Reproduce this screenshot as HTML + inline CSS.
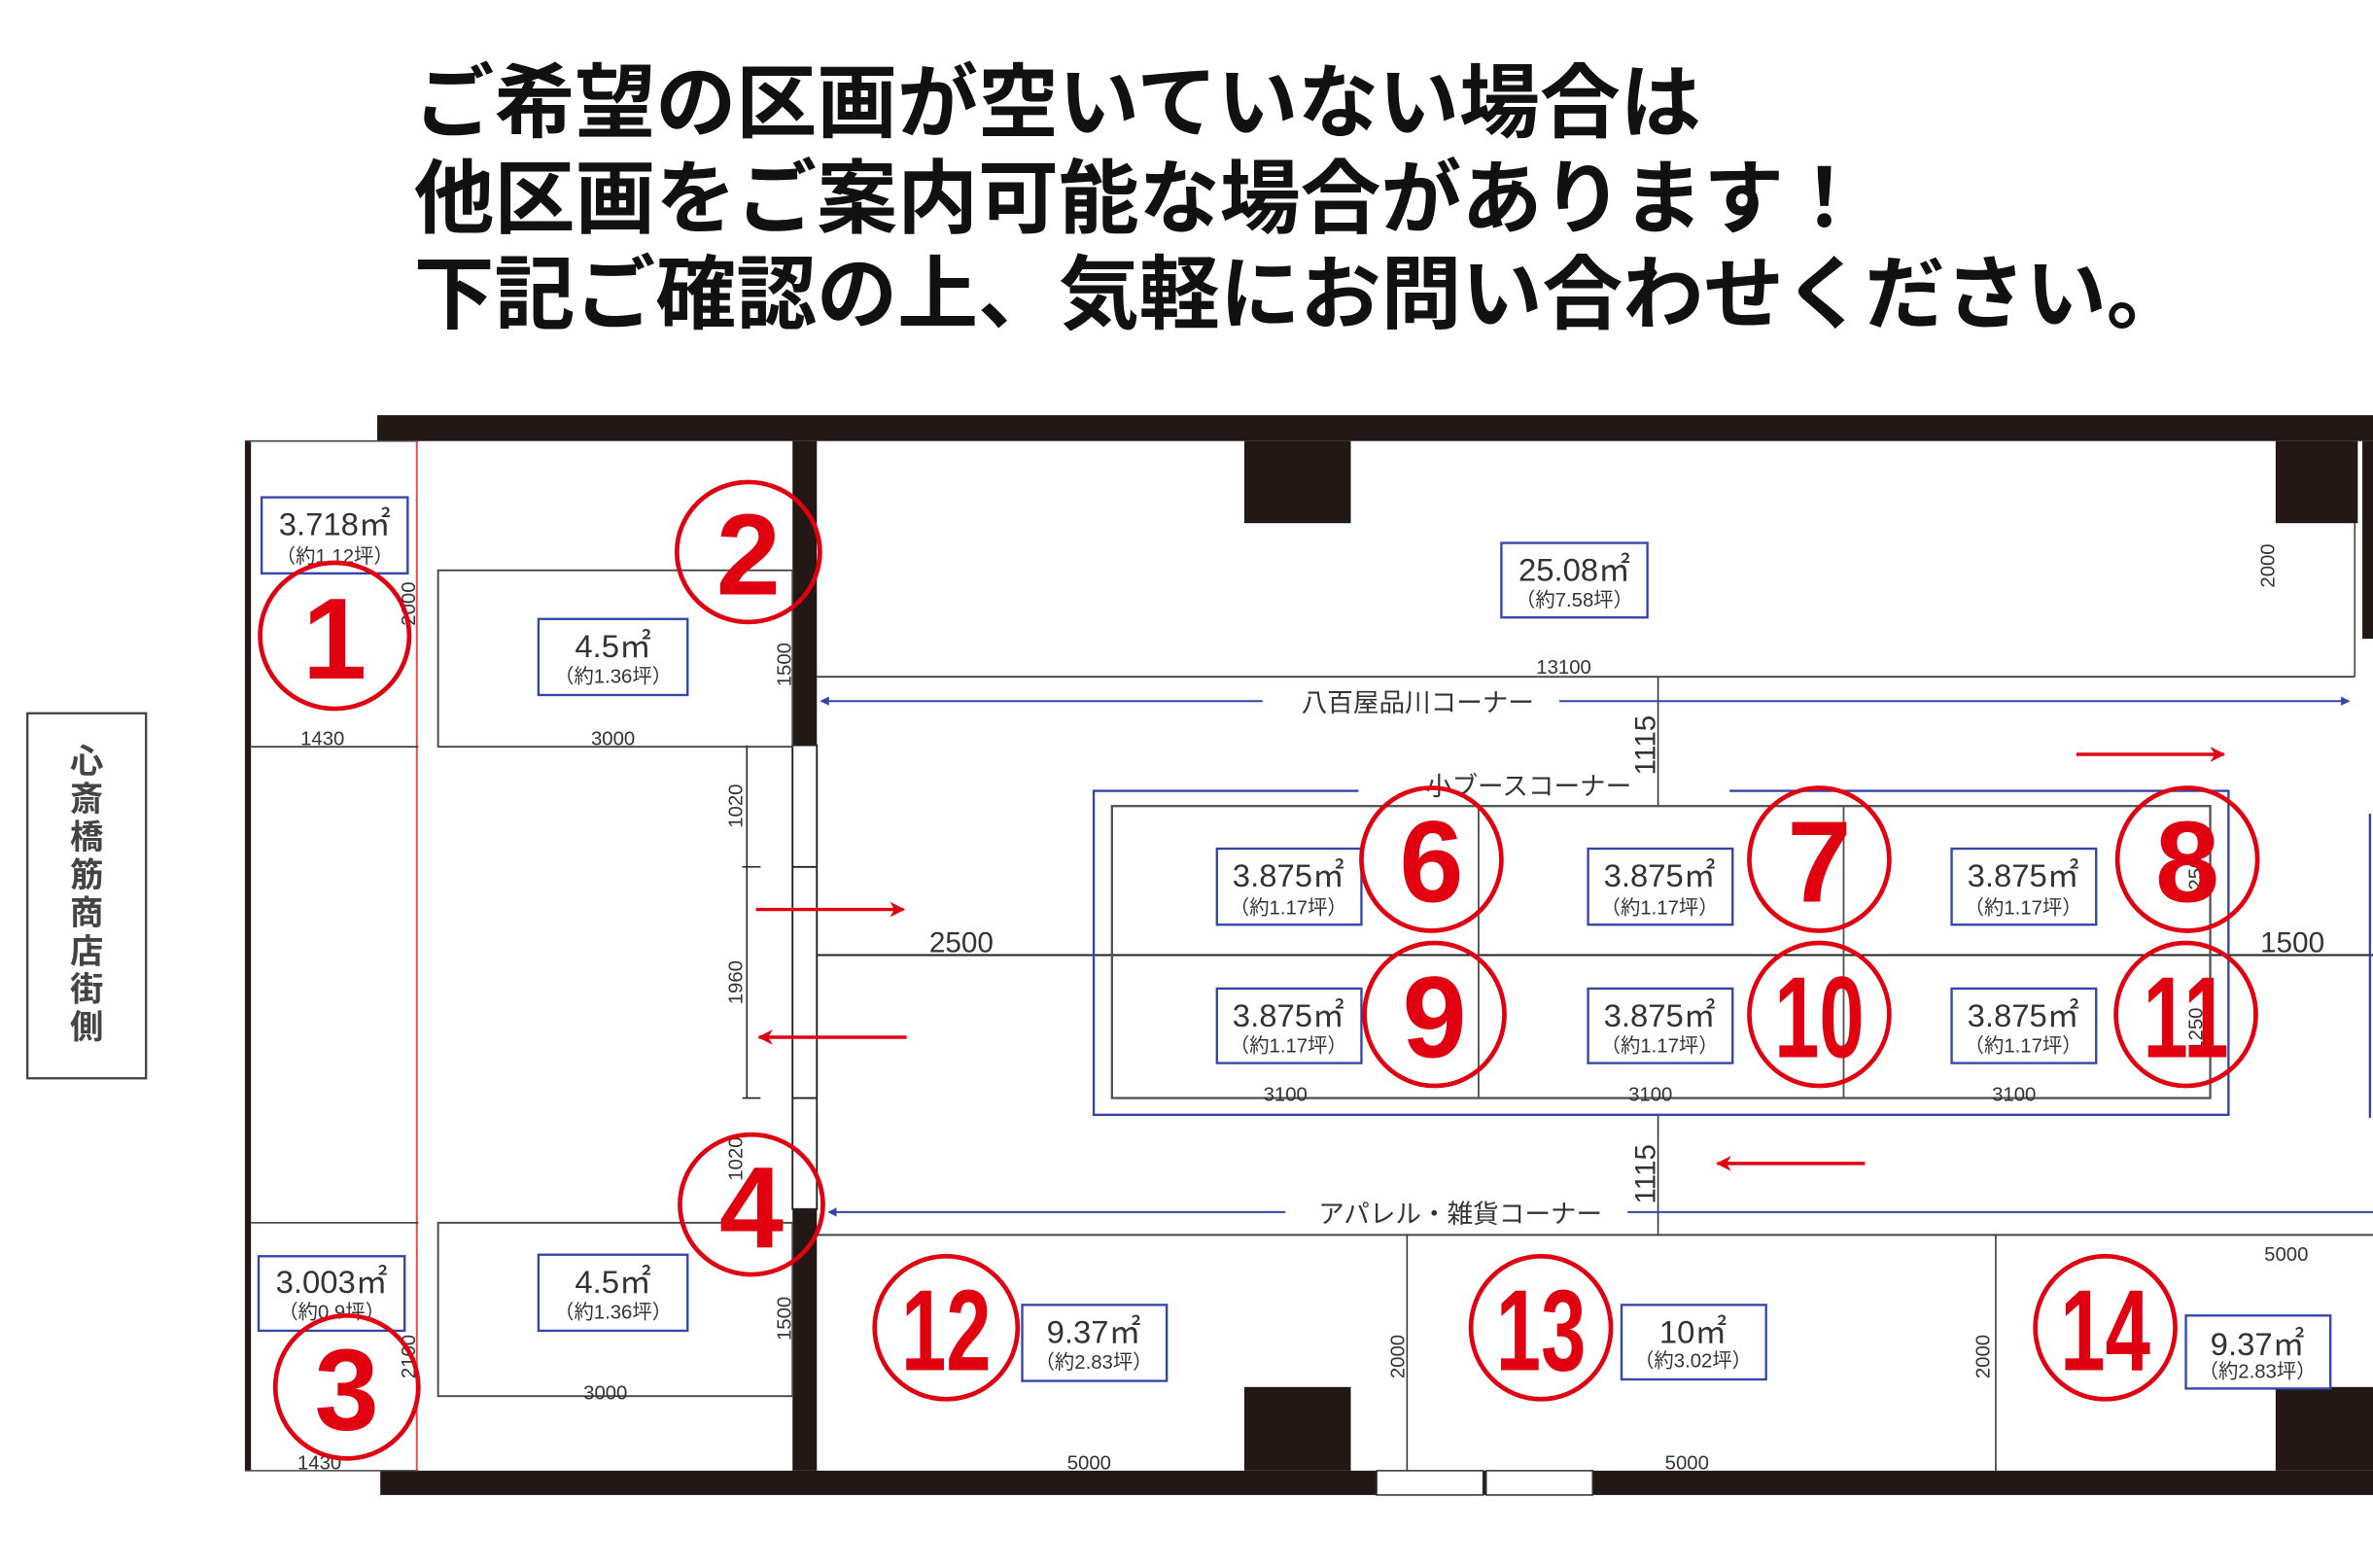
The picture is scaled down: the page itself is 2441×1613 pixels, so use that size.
<!DOCTYPE html>
<html><head><meta charset="utf-8"><style>
html,body{margin:0;padding:0;background:#fff;}
svg{display:block;}
.t{font-family:"Liberation Sans","Noto Sans CJK JP",sans-serif;}
</style></head><body>
<svg width="2441" height="1613" viewBox="0 0 1560 1031" preserveAspectRatio="none" xmlns="http://www.w3.org/2000/svg" class="t">
<defs>
<marker id="ra" markerWidth="10" markerHeight="10" refX="9" refY="5" orient="auto" markerUnits="userSpaceOnUse"><path d="M0,0 L10,5 L0,10 L3,5 Z" fill="#e00010"/></marker>
<marker id="ba" markerWidth="6" markerHeight="6" refX="5" refY="3" orient="auto" markerUnits="userSpaceOnUse"><path d="M0,0 L6,3 L0,6 Z" fill="#3344aa"/></marker>
</defs>
<g font-weight="bold" font-size="53" fill="#111" font-family="'Liberation Sans','Noto Sans CJK JP',sans-serif">
<text x="272" y="86">ご希望の区画が空いていない場合は</text>
<text x="272" y="149">他区画をご案内可能な場合があります！</text>
<text x="272" y="212">下記ご確認の上、気軽にお問い合わせください。</text>
</g>
<rect x="18" y="469" width="78" height="240" fill="#fff" stroke="#444" stroke-width="1.5"/>
<g font-size="22" font-weight="bold" fill="#444" text-anchor="middle">
<text x="57" y="508">心</text><text x="57" y="533">斎</text><text x="57" y="558">橋</text><text x="57" y="583">筋</text><text x="57" y="608">商</text><text x="57" y="633">店</text><text x="57" y="658">街</text><text x="57" y="683">側</text>
</g>
<rect x="248" y="273" width="1312" height="17" fill="#231815"/>
<rect x="250" y="967" width="1310" height="16" fill="#231815"/>
<rect x="161" y="290" width="4" height="677" fill="#231815"/>
<line x1="161" y1="290" x2="275" y2="290" stroke="#444" stroke-width="1"/>
<line x1="161" y1="967" x2="275" y2="967" stroke="#444" stroke-width="1"/>
<line x1="274" y1="290" x2="274" y2="967" stroke="#f04040" stroke-width="1.2"/>
<rect x="521" y="290" width="16" height="200" fill="#231815"/>
<rect x="521" y="795" width="16" height="172" fill="#231815"/>
<rect x="521" y="490" width="16" height="305" fill="#fff" stroke="#222" stroke-width="1.2"/>
<line x1="521" y1="570" x2="537" y2="570" stroke="#222" stroke-width="1.2"/>
<line x1="521" y1="722" x2="537" y2="722" stroke="#222" stroke-width="1.2"/>
<line x1="491" y1="490" x2="491" y2="722" stroke="#222" stroke-width="1"/>
<line x1="488" y1="570" x2="500" y2="570" stroke="#222"/><line x1="488" y1="722" x2="500" y2="722" stroke="#222"/>
<rect x="818" y="290" width="70" height="54" fill="#231815"/>
<rect x="1496" y="290" width="54" height="54" fill="#231815"/>
<rect x="1553" y="290" width="7" height="130" fill="#231815"/>
<line x1="1548" y1="344" x2="1548" y2="445" stroke="#444"/>
<rect x="818" y="912" width="70" height="55" fill="#231815"/>
<rect x="1496" y="912" width="64" height="55" fill="#231815"/>
<rect x="905" y="967" width="70" height="16" fill="#fff" stroke="#333"/>
<rect x="977" y="967" width="70" height="16" fill="#fff" stroke="#333"/>
<line x1="165" y1="491" x2="275" y2="491" stroke="#333"/>
<line x1="165" y1="804" x2="275" y2="804" stroke="#333"/>
<rect x="288" y="375" width="233" height="116" fill="none" stroke="#444" stroke-width="1.2"/>
<rect x="288" y="804" width="233" height="114" fill="none" stroke="#444" stroke-width="1.2"/>
<line x1="537" y1="445" x2="1548" y2="445" stroke="#444" stroke-width="1.2"/>
<line x1="1090" y1="445" x2="1090" y2="530" stroke="#333"/>
<line x1="1090" y1="733" x2="1090" y2="812" stroke="#333"/>
<line x1="537" y1="628" x2="1560" y2="628" stroke="#222" stroke-width="1.3"/>
<line x1="537" y1="812" x2="1560" y2="812" stroke="#444" stroke-width="1.2"/>
<line x1="925" y1="812" x2="925" y2="967" stroke="#333"/>
<line x1="1312" y1="812" x2="1312" y2="967" stroke="#333"/>
<path d="M893,520 H719 V733 H1465 V520 H1137" fill="none" stroke="#3344aa" stroke-width="1.5"/>
<rect x="731" y="530" width="722" height="192" fill="none" stroke="#555" stroke-width="1.5"/>
<line x1="972" y1="530" x2="972" y2="722" stroke="#555" stroke-width="1.2"/>
<line x1="1212" y1="530" x2="1212" y2="722" stroke="#555" stroke-width="1.2"/>
<line x1="1558" y1="535" x2="1558" y2="735" stroke="#3344aa" stroke-width="1.5"/>
<line x1="830" y1="461" x2="540" y2="461" stroke="#3344aa" stroke-width="1.3" marker-end="url(#ba)"/>
<line x1="1025" y1="461" x2="1544" y2="461" stroke="#3344aa" stroke-width="1.3" marker-end="url(#ba)"/>
<line x1="845" y1="797" x2="545" y2="797" stroke="#3344aa" stroke-width="1.3" marker-end="url(#ba)"/>
<line x1="1070" y1="797" x2="1560" y2="797" stroke="#3344aa" stroke-width="1.3"/>
<g font-size="17" fill="#333" text-anchor="middle">
<text x="932" y="468">八百屋品川コーナー</text>
<text x="1005" y="523">小ブースコーナー</text>
<text x="960" y="804">アパレル・雑貨コーナー</text>
</g>
<g stroke="#e00010" stroke-width="2.2">
<line x1="497" y1="598" x2="594" y2="598" marker-end="url(#ra)"/>
<line x1="596" y1="682" x2="499" y2="682" marker-end="url(#ra)"/>
<line x1="1365" y1="496" x2="1462" y2="496" marker-end="url(#ra)"/>
<line x1="1226" y1="765" x2="1129" y2="765" marker-end="url(#ra)"/>
</g>
<g font-size="13" fill="#333" text-anchor="middle">
<text x="212" y="490">1430</text><text x="210" y="966">1430</text>
<text x="403" y="490">3000</text><text x="398" y="920">3000</text>
<text x="1028" y="443">13100</text>
<text x="845" y="724">3100</text><text x="1085" y="724">3100</text><text x="1324" y="724">3100</text>
<text x="716" y="966">5000</text><text x="1109" y="966">5000</text><text x="1503" y="829">5000</text>
<text transform="translate(273,397) rotate(-90)">2000</text>
<text transform="translate(273,892) rotate(-90)">2100</text>
<text transform="translate(520,437) rotate(-90)">1500</text>
<text transform="translate(520,867) rotate(-90)">1500</text>
<text transform="translate(488,530) rotate(-90)">1020</text>
<text transform="translate(488,646) rotate(-90)">1960</text>
<text transform="translate(488,762) rotate(-90)">1020</text>
<text transform="translate(1495,372) rotate(-90)">2000</text>
<text transform="translate(923,892) rotate(-90)">2000</text>
<text transform="translate(1308,892) rotate(-90)">2000</text>
<text transform="translate(1448,677) rotate(-90)">1250</text>
<text transform="translate(1448,578) rotate(-90)">1250</text>
</g>
<g font-size="19" fill="#333" text-anchor="middle">
<text transform="translate(1088,490) rotate(-90)">1115</text>
<text transform="translate(1088,772) rotate(-90)">1115</text>
<text x="632" y="626">2500</text><text x="1507" y="626">1500</text>
</g>
<g fill="#fff" stroke="#3344aa" stroke-width="1.5">
<rect x="172" y="327" width="96" height="50"/>
<rect x="170" y="826" width="96" height="49"/>
<rect x="354" y="407" width="98" height="50"/>
<rect x="354" y="825" width="98" height="50"/>
<rect x="987" y="357" width="96" height="49"/>
<rect x="800" y="558" width="95" height="50"/><rect x="1044" y="558" width="95" height="50"/><rect x="1283" y="558" width="95" height="50"/>
<rect x="800" y="650" width="95" height="49"/><rect x="1044" y="650" width="95" height="49"/><rect x="1283" y="650" width="95" height="49"/>
<rect x="672" y="858" width="95" height="50"/>
<rect x="1066" y="858" width="95" height="49"/>
<rect x="1437" y="865" width="95" height="48"/>
</g>
<g fill="#333" text-anchor="middle">
<g font-size="21">
<text x="220" y="352">3.718㎡</text><text x="218" y="850">3.003㎡</text>
<text x="403" y="432">4.5㎡</text><text x="403" y="850">4.5㎡</text>
<text x="1035" y="382">25.08㎡</text>
<text x="847" y="583">3.875㎡</text><text x="1091" y="583">3.875㎡</text><text x="1330" y="583">3.875㎡</text>
<text x="847" y="675">3.875㎡</text><text x="1091" y="675">3.875㎡</text><text x="1330" y="675">3.875㎡</text>
<text x="719" y="883">9.37㎡</text><text x="1113" y="883">10㎡</text><text x="1484" y="891">9.37㎡</text>
</g>
<g font-size="13">
<text x="220" y="370">（約1.12坪）</text><text x="218" y="867">（約0.9坪）</text>
<text x="403" y="449">（約1.36坪）</text><text x="403" y="867">（約1.36坪）</text>
<text x="1035" y="399">（約7.58坪）</text>
<text x="847" y="601">（約1.17坪）</text><text x="1091" y="601">（約1.17坪）</text><text x="1330" y="601">（約1.17坪）</text>
<text x="847" y="692">（約1.17坪）</text><text x="1091" y="692">（約1.17坪）</text><text x="1330" y="692">（約1.17坪）</text>
<text x="719" y="900">（約2.83坪）</text><text x="1113" y="899">（約3.02坪）</text><text x="1484" y="906">（約2.83坪）</text>
</g>
</g>
<g fill="none" stroke="#e00010" stroke-width="3">
<ellipse cx="220" cy="418" rx="49" ry="48"/>
<ellipse cx="492" cy="363" rx="47" ry="46"/>
<ellipse cx="228" cy="912" rx="47" ry="47"/>
<ellipse cx="494" cy="792" rx="47" ry="46"/>
<ellipse cx="941" cy="565" rx="46" ry="47"/><ellipse cx="1196" cy="565" rx="46" ry="47"/><ellipse cx="1438" cy="565" rx="46" ry="47"/>
<ellipse cx="943" cy="667" rx="46" ry="47"/><ellipse cx="1196" cy="667" rx="46" ry="47"/><ellipse cx="1437" cy="667" rx="46" ry="47"/>
<ellipse cx="622" cy="873" rx="47" ry="47"/><ellipse cx="1013" cy="873" rx="46" ry="47"/><ellipse cx="1384" cy="873" rx="46" ry="47"/>
</g>
<g fill="#e00010" font-weight="bold" font-size="76" text-anchor="middle">
<text x="220" y="446">1</text><text x="492" y="391">2</text><text x="228" y="940">3</text><text x="494" y="820">4</text>
<text x="941" y="593">6</text><text x="1196" y="593">7</text><text x="1438" y="593">8</text><text x="943" y="695">9</text>
<text transform="translate(1196,695) scale(0.7,1)">10</text>
<text transform="translate(1437,695) scale(0.7,1)">11</text>
<text transform="translate(622,901) scale(0.7,1)">12</text>
<text transform="translate(1013,901) scale(0.7,1)">13</text>
<text transform="translate(1384,901) scale(0.7,1)">14</text>
</g>
</svg>
</body></html>
